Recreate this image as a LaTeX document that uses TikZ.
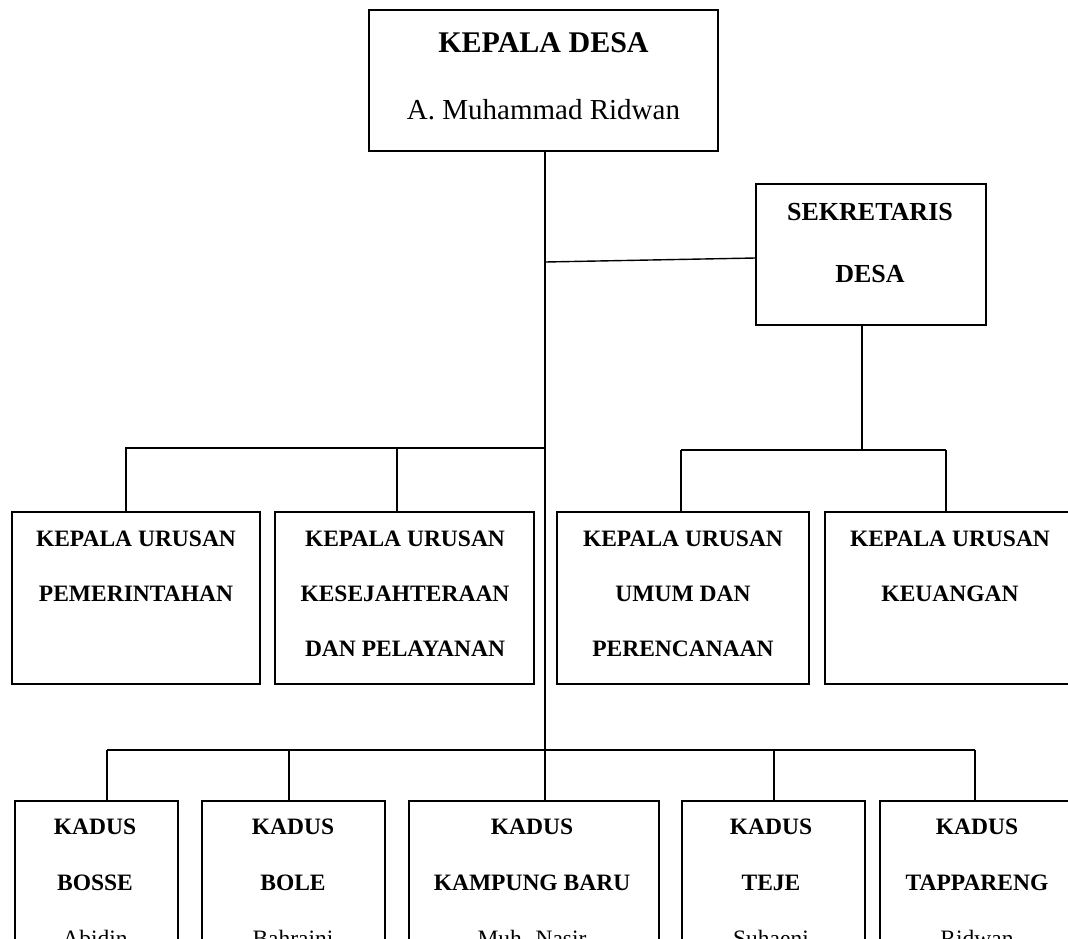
\documentclass[tikz,border=0pt]{standalone}
\usepackage{fontspec}
\setmainfont{Liberation Serif}
\begin{document}
\begin{tikzpicture}[x=1pt,y=-1pt,
  box/.style={draw, line width=1.6pt, inner sep=0pt},
  conn/.style={line width=1.4pt},
  lbl/.style={anchor=base, inner sep=0pt, font=\fontsize{23.5}{24}\selectfont\bfseries},
  sek/.style={anchor=base, inner sep=0pt, font=\fontsize{26}{26}\selectfont\bfseries},
  big/.style={anchor=base, inner sep=0pt, font=\fontsize{30}{30}\selectfont\bfseries},
  nm/.style={anchor=base, inner sep=0pt, font=\fontsize{29}{29}\selectfont},
  nms/.style={anchor=base, inner sep=0pt, font=\fontsize{23.5}{24}\selectfont}]
\useasboundingbox (0,0) rectangle (1068,938);
\clip (0,0) rectangle (1068,938);

% boxes
\node[box, minimum width=349pt, minimum height=141pt] (kd) at (543.5,80.5) {};
\node[box, minimum width=230pt, minimum height=141pt] (sk) at (871,254.5) {};
\node[box, minimum width=248pt, minimum height=172pt] (ku1) at (136,598) {};
\node[box, minimum width=259pt, minimum height=172pt] (ku2) at (404.5,598) {};
\node[box, minimum width=252pt, minimum height=172pt] (ku3) at (683,598) {};
\node[box, minimum width=250pt, minimum height=172pt] (ku4) at (950,598) {};
\node[box, minimum width=163pt, minimum height=160pt] (k1) at (96.5,881) {};
\node[box, minimum width=183pt, minimum height=160pt] (k2) at (293.5,881) {};
\node[box, minimum width=250pt, minimum height=160pt] (k3) at (534,881) {};
\node[box, minimum width=183pt, minimum height=160pt] (k4) at (773.5,881) {};
\node[box, minimum width=194pt, minimum height=160pt] (k5) at (977,881) {};

% texts
\node[big] (t-kd1) at (543.5,52) {KEPALA DESA};
\node[nm] (t-kd2) at (543.5,119) {A. Muhammad Ridwan};
\node[sek] (t-sk1) at (870,220) {SEKRETARIS};
\node[sek] (t-sk2) at (870,282) {DESA};

\node[lbl] (t-ku1a) at (136,546) {KEPALA URUSAN};
\node[lbl] (t-ku1b) at (136,601) {PEMERINTAHAN};
\node[lbl] (t-ku2a) at (405,546) {KEPALA URUSAN};
\node[lbl] (t-ku2b) at (405,601) {KESEJAHTERAAN};
\node[lbl] (t-ku2c) at (405,656) {DAN PELAYANAN};
\node[lbl] (t-ku3a) at (683,546) {KEPALA URUSAN};
\node[lbl] (t-ku3b) at (683,601) {UMUM DAN};
\node[lbl] (t-ku3c) at (683,656) {PERENCANAAN};
\node[lbl] (t-ku4a) at (950,546) {KEPALA URUSAN};
\node[lbl] (t-ku4b) at (950,601) {KEUANGAN};

\node[lbl] (t-k1a) at (95,834) {KADUS};
\node[lbl] (t-k1b) at (95,890) {BOSSE};
\node[nms] (t-k1c) at (95,946) {Abidin};
\node[lbl] (t-k2a) at (293,834) {KADUS};
\node[lbl] (t-k2b) at (293,890) {BOLE};
\node[nms] (t-k2c) at (293,946) {Bahraini};
\node[lbl] (t-k3a) at (532,834) {KADUS};
\node[lbl] (t-k3b) at (532,890) {KAMPUNG BARU};
\node[nms] (t-k3c) at (532,946) {Muh. Nasir};
\node[lbl] (t-k4a) at (771,834) {KADUS};
\node[lbl] (t-k4b) at (771,890) {TEJE};
\node[nms] (t-k4c) at (771,946) {Suhaeni};
\node[lbl] (t-k5a) at (977,834) {KADUS};
\node[lbl] (t-k5b) at (977,890) {TAPPARENG};
\node[nms] (t-k5c) at (977,946) {Ridwan};

% junction coordinates
\coordinate (j1) at (545,262);
\coordinate (j2) at (545,448);
\coordinate (j3) at (545,750);
\coordinate (b1) at (126,448);
\coordinate (b2) at (397,448);
\coordinate (r0) at (862,450);
\coordinate (r1) at (681,450);
\coordinate (r2) at (946,450);
\coordinate (c1) at (107,750);
\coordinate (c2) at (289,750);
\coordinate (c4) at (774,750);
\coordinate (c5) at (975,750);

% connectors
\draw[conn] (kd.south -| j3) -- (j3);
\draw[conn] (j1) -- ([yshift=-3.5pt]sk.west);
\draw[conn] (j2) -- (b1) -- (ku1.north -| b1);
\draw[conn] (b2) -- (ku2.north -| b2);
\draw[conn] (sk.south -| r0) -- (r0);
\draw[conn] (r1) -- (r2);
\draw[conn] (r1) -- (ku3.north -| r1);
\draw[conn] (r2) -- (ku4.north -| r2);
\draw[conn] (c1) -- (c5);
\draw[conn] (c1) -- (k1.north -| c1);
\draw[conn] (c2) -- (k2.north -| c2);
\draw[conn] (j3) -- (k3.north -| j3);
\draw[conn] (c4) -- (k4.north -| c4);
\draw[conn] (c5) -- (k5.north -| c5);
\end{tikzpicture}
\end{document}
